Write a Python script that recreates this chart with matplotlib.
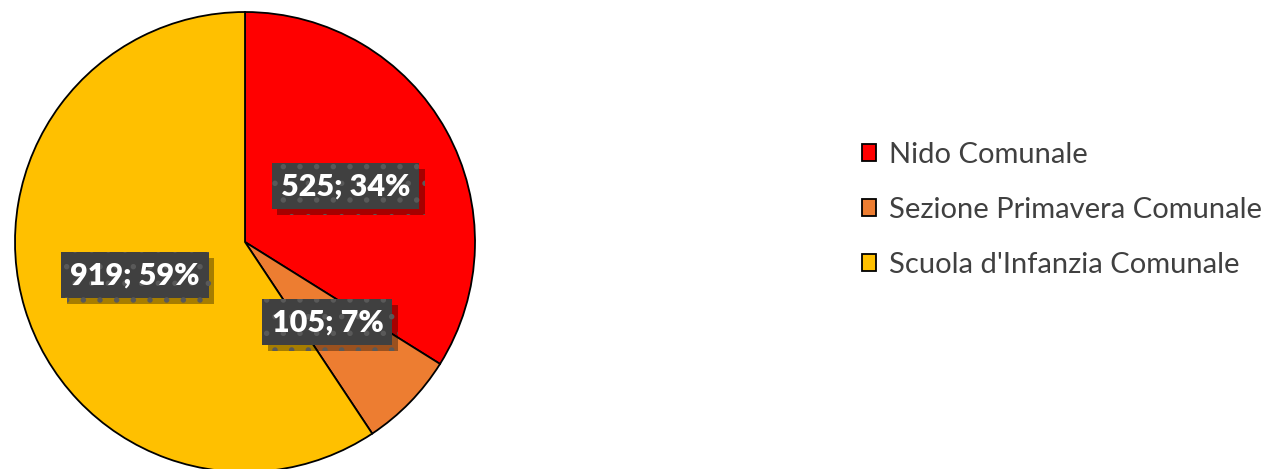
import matplotlib
matplotlib.use('Agg')
from matplotlib import pyplot as plt
from matplotlib import patheffects as pe

categories = ['Nido Comunale', 'Sezione Primavera Comunale', "Scuola d'Infanzia Comunale"]
values = [525, 105, 919]
colors = ['#ff0000', '#ed7d31', '#ffc000']

plt.rcParams['font.family'] = ['Lato', 'DejaVu Sans']
plt.rcParams['hatch.linewidth'] = 1.5

fig = plt.figure(figsize=(12.74, 4.69), dpi=100)
ax = fig.add_axes([15/1274, -3/469, 460/1274, 460/469])

total = sum(values)

def fmt(pct):
    v = int(round(pct * total / 100.0))
    return f'{v}; {pct:.0f}%'

wedges, texts, autotexts = ax.pie(values, colors=colors, startangle=90, counterclock=False,
                                  autopct=fmt, pctdistance=0.5,
                                  wedgeprops=dict(edgecolor='black', linewidth=1.3))
for t in autotexts:
    t.set_color('white')
    t.set_fontsize(22)
    t.set_fontweight('heavy')
    t.set_bbox(dict(boxstyle='square,pad=0.3', facecolor='#404040', edgecolor='#595959',
                    linewidth=0, hatch='.'))
    t.get_bbox_patch().set_path_effects([
        pe.SimplePatchShadow(offset=(4, -4), shadow_rgbFace='black', alpha=0.35), pe.Normal()])
ax.set_xlim(-1, 1)
ax.set_ylim(-1, 1)
ax.set_aspect('equal')

leg = fig.legend(wedges, categories, loc='center left', bbox_to_anchor=(850/1274, 1 - 210/469),
                 frameon=False, fontsize=21, handlelength=0.5, handleheight=0.5,
                 handletextpad=0.45, labelspacing=1.0, borderaxespad=0)
for t in leg.get_texts():
    t.set_color('#404040')

fig.savefig('out.png', dpi=100)
